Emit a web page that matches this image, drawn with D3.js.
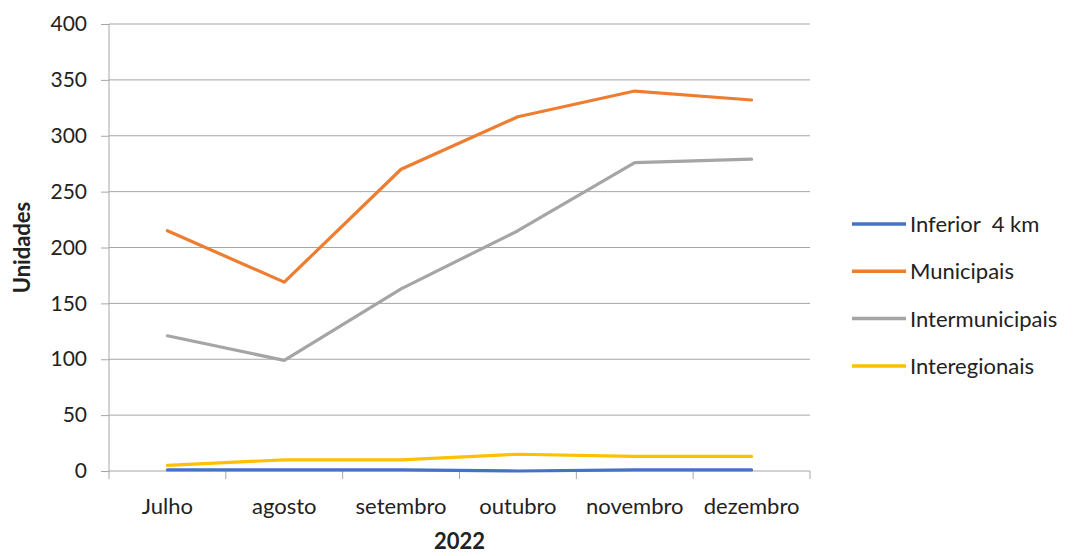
<!DOCTYPE html>
<html>
<head>
<meta charset="utf-8">
<script src="https://cdn.jsdelivr.net/npm/d3@7"></script>
<style>
  body { margin: 0; background: #fff; }
  svg { font-family: Lato, "Open Sans", sans-serif; }
</style>
</head>
<body>
<script>
const months = ["Julho", "agosto", "setembro", "outubro", "novembro", "dezembro"];
const seriesNames = ["Inferior  4 km", "Municipais", "Intermunicipais", "Interegionais"];
const inferior4km = [1, 1, 1, 0, 1, 1];
const municipais = [215, 169, 270, 317, 340, 332];
const intermunicipais = [121, 99, 163, 215, 276, 279];
const interegionais = [5, 10, 10, 15, 13, 13];
const yTicks = [0, 50, 100, 150, 200, 250, 300, 350, 400];
const colors = ["#4472C4", "#ED7D31", "#A5A5A5", "#FFC000"];

const w = 1080;
const h = 556;
const margin = { left: 109, right: 270, top: 24, bottom: 85 };
const fontSize = 22;

const series = [inferior4km, municipais, intermunicipais, interegionais];

const svg = d3.select("body").append("svg").attr("width", w).attr("height", h);

const xScale = d3
  .scaleBand()
  .domain(months)
  .range([margin.left, w - margin.right]);

const yScale = d3
  .scaleLinear()
  .domain([0, 400])
  .range([h - margin.bottom, margin.top]);

// gridlines
svg
  .append("g")
  .selectAll("line")
  .data(yTicks.slice(1))
  .enter()
  .append("line")
  .attr("x1", margin.left)
  .attr("x2", w - margin.right)
  .attr("y1", (d) => yScale(d))
  .attr("y2", (d) => yScale(d))
  .attr("stroke", "#a6a6a6")
  .attr("stroke-width", 1);

// y axis
const yAxis = d3.axisLeft(yScale).tickValues(yTicks).tickSize(8).tickPadding(14);
const gy = svg
  .append("g")
  .attr("transform", "translate(" + margin.left + ",0)")
  .call(yAxis);
gy.select(".domain").attr("stroke", "#a6a6a6").attr("d", "M0," + yScale(0) + "V" + yScale(400));
gy.selectAll(".tick line").attr("stroke", "#a6a6a6");
gy.selectAll("text").attr("font-size", 21).attr("fill", "#222").attr("font-family", "Lato, sans-serif");

// x axis
const xAxis = d3.axisBottom(xScale).tickSize(0).tickPadding(27);
const gx = svg
  .append("g")
  .attr("transform", "translate(0," + yScale(0) + ")")
  .call(xAxis);
gx.select(".domain").attr("stroke", "#a6a6a6").attr("d", "M" + margin.left + ",0H" + (w - margin.right));
gx.selectAll("text").attr("font-size", fontSize).attr("fill", "#222").attr("font-family", "Lato, sans-serif");

// x tick marks at band edges
const edges = months.map((m) => xScale(m)).concat([w - margin.right]);
svg
  .append("g")
  .selectAll("line")
  .data(edges)
  .enter()
  .append("line")
  .attr("x1", (d) => d)
  .attr("x2", (d) => d)
  .attr("y1", yScale(0))
  .attr("y2", yScale(0) + 8)
  .attr("stroke", "#a6a6a6");

// lines
const line = d3
  .line()
  .x((d, i) => xScale(months[i]) + xScale.bandwidth() / 2)
  .y((d) => yScale(d));

svg
  .append("g")
  .selectAll("path")
  .data(series)
  .enter()
  .append("path")
  .attr("d", (d) => line(d))
  .attr("fill", "none")
  .attr("stroke", (d, i) => colors[i])
  .attr("stroke-width", 3.2)
  .attr("stroke-linejoin", "round")
  .attr("stroke-linecap", "round");

// axis titles
svg
  .append("text")
  .attr("transform", "translate(30," + yScale(200) + ") rotate(-90)")
  .attr("text-anchor", "middle")
  .attr("font-size", fontSize)
  .attr("font-weight", "bold")
  .attr("fill", "#222")
  .text("Unidades");

svg
  .append("text")
  .attr("x", (margin.left + w - margin.right) / 2)
  .attr("y", 549)
  .attr("text-anchor", "middle")
  .attr("font-size", fontSize)
  .attr("font-weight", "bold")
  .attr("fill", "#222")
  .text("2022");

// legend
const legend = svg
  .append("g")
  .selectAll("g")
  .data(seriesNames)
  .enter()
  .append("g")
  .attr("transform", (d, i) => "translate(852," + (224 + i * 47.3) + ")");

legend
  .append("line")
  .attr("x1", 0)
  .attr("x2", 54)
  .attr("stroke", (d, i) => colors[i])
  .attr("stroke-width", 3.5);

legend
  .append("text")
  .attr("x", 58)
  .attr("y", 8)
  .attr("font-size", fontSize)
  .attr("fill", "#222")
  .attr("xml:space", "preserve")
  .style("white-space", "pre")
  .text((d) => d);
</script>
</body>
</html>
